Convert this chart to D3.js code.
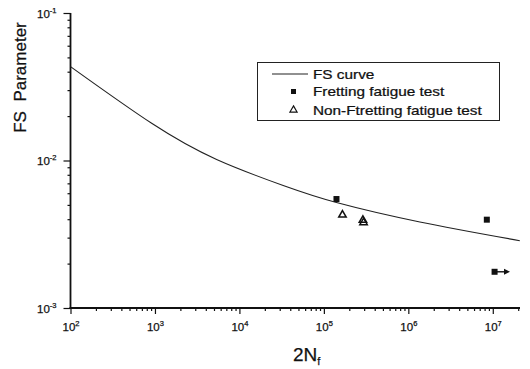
<!DOCTYPE html>
<html>
<head>
<meta charset="utf-8">
<script src="https://cdn.jsdelivr.net/npm/d3@7"></script>
<style>
  html, body { margin: 0; padding: 0; background: #fff; }
  svg { display: block; }
  text { font-family: Arial, "Liberation Sans", sans-serif; fill: #111; stroke: #111; stroke-width: 0.25; white-space: pre; }
</style>
</head>
<body>
<svg id="chart" width="530" height="369"></svg>
<script>
// FS parameter curve, sampled along 2Nf
const curveN  = [1e2, 914, 5370, 3.3e4, 1.41e5, 1.37e6, 2.09e7];
const curveFS = [0.0433, 0.01787, 0.01016, 0.00677, 0.00519, 0.00383, 0.00286];

// Fretting fatigue tests (filled squares)
const frettingN  = [1.41e5, 8.5e6, 1.05e7];
const frettingFS = [0.00548, 0.00397, 0.00176];
// Run-out specimen (arrow end)
const runoutIndex = 2;
const runoutArrowN = 1.6e7;

// Non-fretting fatigue tests (open triangles)
const plainN  = [1.66e5, 2.9e5, 2.95e5];
const plainFS = [0.00428, 0.00394, 0.00380];

const xTickValues = [1e2, 1e3, 1e4, 1e5, 1e6, 1e7];
const xTickExps   = ["2", "3", "4", "5", "6", "7"];
const yTickValues = [1e-3, 1e-2, 1e-1];
const yTickExps   = ["-3", "-2", "-1"];

const legendLabels = ["FS curve", "Fretting fatigue test", "Non-Ftretting fatigue test"];

const svg = d3.select("#chart");

const x = d3.scaleLog().domain([1e2, 2.1e7]).range([70.5, 520]);
const y = d3.scaleLog().domain([1e-3, 1e-1]).range([308, 13]);

// minor ticks 2..9 within each decade
function minorTicks(lo, hi) {
  const out = [];
  for (let e = Math.floor(Math.log10(lo)); e <= Math.ceil(Math.log10(hi)); e++) {
    for (let m = 2; m <= 9; m++) {
      const v = m * Math.pow(10, e);
      if (v > lo && v < hi) out.push(v);
    }
  }
  return out;
}

// X axis
const gx = svg.append("g").attr("transform", `translate(0,${y(1e-3)})`);
gx.call(d3.axisBottom(x).tickValues(minorTicks(1e2, 2.1e7)).tickSize(3).tickFormat(""))
  .call(g => g.select(".domain").remove());
gx.call(g => g.append("g").call(d3.axisBottom(x).tickValues(xTickValues).tickSize(6).tickFormat(""))
  .call(a => a.select(".domain").remove()));
gx.selectAll("line").attr("stroke", "#111").attr("stroke-width", 1.2);
gx.append("line").attr("x1", x(1e2) - 1).attr("x2", x(2.1e7)).attr("y1", 0).attr("y2", 0)
  .attr("stroke", "#111").attr("stroke-width", 1.8);

// Y axis
const gy = svg.append("g").attr("transform", `translate(${x(1e2)},0)`);
gy.call(d3.axisLeft(y).tickValues(minorTicks(1e-3, 1e-1)).tickSize(3).tickFormat(""))
  .call(g => g.select(".domain").remove());
gy.call(g => g.append("g").call(d3.axisLeft(y).tickValues(yTickValues).tickSize(7).tickFormat(""))
  .call(a => a.select(".domain").remove()));
gy.selectAll("line").attr("stroke", "#111").attr("stroke-width", 1.2);
gy.append("line").attr("x1", 0).attr("x2", 0).attr("y1", y(1e-1)).attr("y2", y(1e-3) + 1)
  .attr("stroke", "#111").attr("stroke-width", 1.8);

// tick labels with superscripts
xTickValues.forEach((v, i) => {
  const t = svg.append("text").attr("x", x(v) - 8).attr("y", 331)
    .attr("font-size", 11.5);
  t.append("tspan").text("10");
  t.append("tspan").attr("dy", -5).attr("font-size", 7.5).text(xTickExps[i]);
});
yTickValues.forEach((v, i) => {
  const t = svg.append("text").attr("x", 37).attr("y", y(v) + 4.5)
    .attr("font-size", 11.5);
  t.append("tspan").text("10");
  t.append("tspan").attr("dy", -5).attr("font-size", 7.5).text(yTickExps[i]);
});

// axis titles
svg.append("text").attr("transform", "translate(25.5,77.5) rotate(-90)")
  .attr("text-anchor", "middle").attr("font-size", 17).text("FS  Parameter");
const xt = svg.append("text").attr("x", 293).attr("y", 361).attr("font-size", 19);
xt.append("tspan").text("2N");
xt.append("tspan").attr("dy", 4).attr("font-size", 11).text("f");

// FS curve
const curveData = curveN.map((n, i) => [n, curveFS[i]]);
svg.append("path").datum(curveData)
  .attr("d", d3.line().x(d => x(d[0])).y(d => y(d[1])).curve(d3.curveNatural))
  .attr("fill", "none").attr("stroke", "#222").attr("stroke-width", 1.1);

// fretting points
const sq = 6;
frettingN.forEach((n, i) => {
  svg.append("rect").attr("x", x(n) - sq / 2).attr("y", y(frettingFS[i]) - sq / 2)
    .attr("width", sq).attr("height", sq).attr("fill", "#111");
});
// run-out arrow
const ay = y(frettingFS[runoutIndex]);
svg.append("line").attr("x1", x(frettingN[runoutIndex])).attr("x2", x(runoutArrowN) - 4)
  .attr("y1", ay).attr("y2", ay).attr("stroke", "#111").attr("stroke-width", 1.4);
svg.append("path")
  .attr("d", `M${x(runoutArrowN)},${ay} l-6,-3 l0,6 z`).attr("fill", "#111");

// non-fretting points
const tri = d3.symbol().type(d3.symbolTriangle).size(24);
plainN.forEach((n, i) => {
  svg.append("path").attr("d", tri())
    .attr("transform", `translate(${x(n)},${y(plainFS[i])})`)
    .attr("fill", "none").attr("stroke", "#111").attr("stroke-width", 1.5);
});

// legend
const lg = svg.append("g");
lg.append("rect").attr("x", 257.5).attr("y", 62.5).attr("width", 242).attr("height", 58)
  .attr("fill", "#fff").attr("stroke", "#222").attr("stroke-width", 1);
lg.append("line").attr("x1", 272).attr("x2", 308).attr("y1", 74).attr("y2", 74)
  .attr("stroke", "#222").attr("stroke-width", 1.1);
lg.append("rect").attr("x", 291).attr("y", 89).attr("width", 5).attr("height", 5).attr("fill", "#111");
lg.append("path").attr("d", d3.symbol().type(d3.symbolTriangle).size(22)())
  .attr("transform", "translate(293.5,110)")
  .attr("fill", "none").attr("stroke", "#111").attr("stroke-width", 1.2);
const ly = [78.5, 96, 114.5];
legendLabels.forEach((s, i) => {
  lg.append("text").attr("transform", `translate(313,${ly[i]}) scale(1.18,1)`)
    .attr("font-size", 13).text(s);
});
</script>
</body>
</html>
